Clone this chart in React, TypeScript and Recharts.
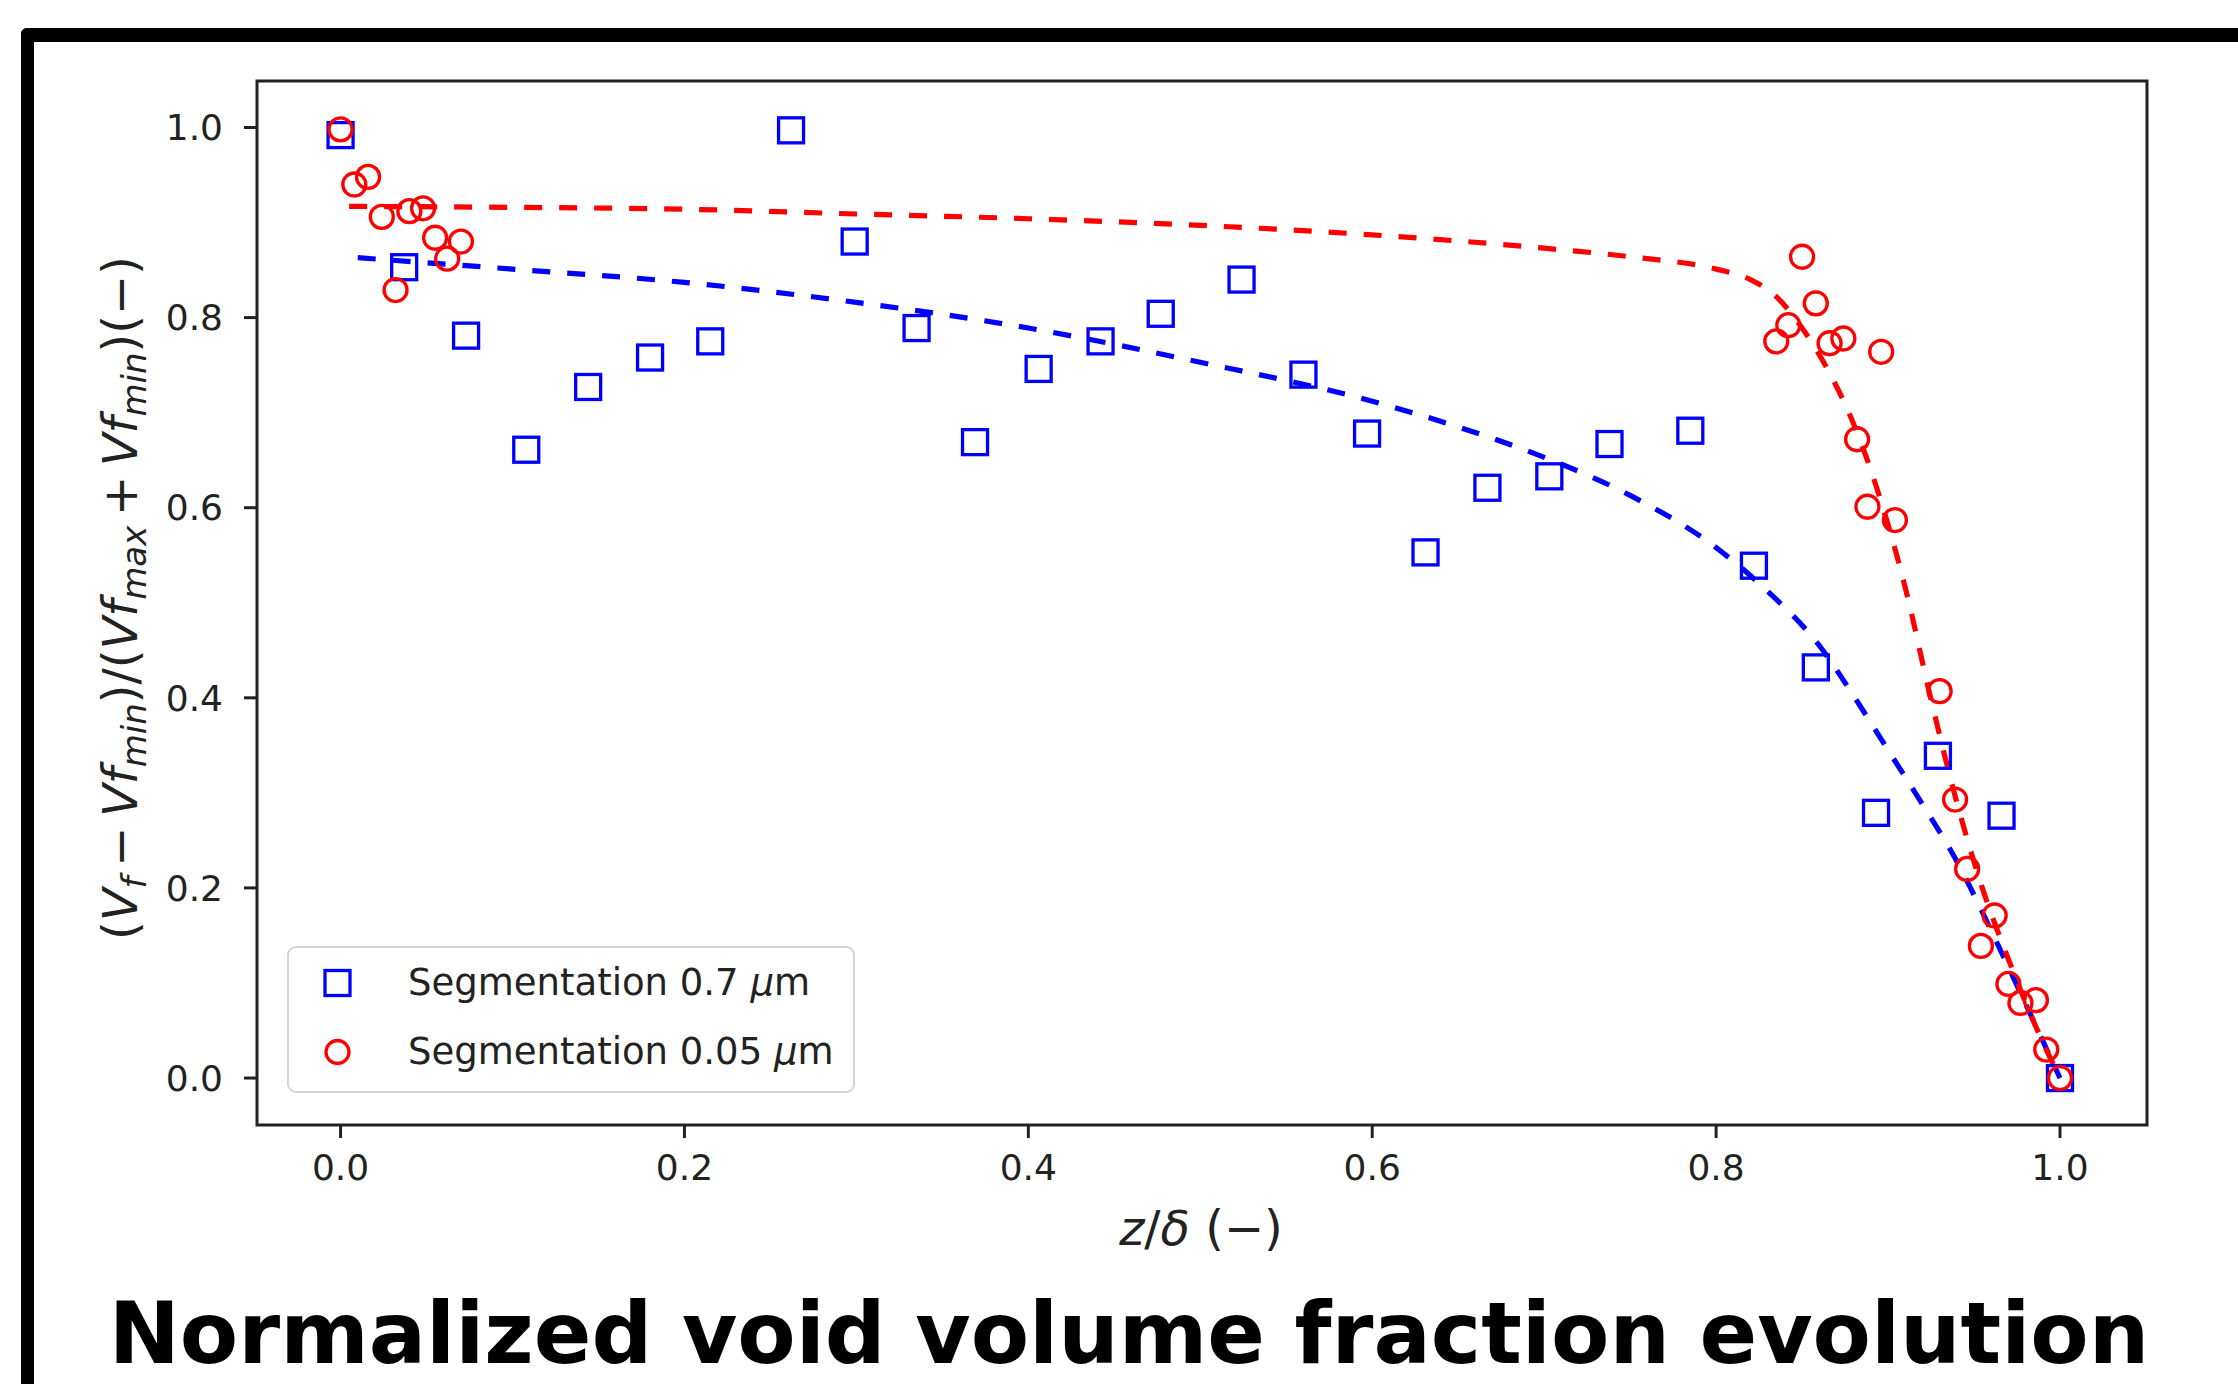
import React from 'react';
import { ComposedChart, XAxis, YAxis, Scatter, Line, ReferenceArea, Legend } from 'recharts';

// ---- data ----
const squareX = [0.0, 0.037, 0.073, 0.108, 0.144, 0.180, 0.215, 0.262, 0.299, 0.335, 0.369, 0.406, 0.442, 0.477, 0.524, 0.560, 0.597, 0.631, 0.667, 0.703, 0.738, 0.785, 0.822, 0.858, 0.893, 0.929, 0.966, 1.0];
const squareY = [0.992, 0.853, 0.781, 0.661, 0.727, 0.758, 0.775, 0.997, 0.880, 0.789, 0.669, 0.746, 0.775, 0.804, 0.840, 0.740, 0.678, 0.553, 0.621, 0.633, 0.667, 0.681, 0.539, 0.432, 0.279, 0.339, 0.276, 0.0];

const circleX = [0.0, 0.008, 0.016, 0.024, 0.032, 0.040, 0.048, 0.055, 0.062, 0.070, 0.835, 0.842, 0.850, 0.858, 0.866, 0.874, 0.882, 0.888, 0.896, 0.904, 0.930, 0.939, 0.946, 0.954, 0.962, 0.970, 0.977, 0.986, 0.992, 1.0];
const circleY = [0.998, 0.940, 0.948, 0.906, 0.829, 0.912, 0.915, 0.884, 0.862, 0.880, 0.775, 0.792, 0.864, 0.815, 0.773, 0.778, 0.672, 0.601, 0.764, 0.587, 0.407, 0.293, 0.220, 0.139, 0.171, 0.099, 0.079, 0.082, 0.030, 0.0];

const blueFitX = [0.01, 0.1, 0.2, 0.3, 0.4, 0.5, 0.6, 0.65, 0.7, 0.75, 0.8, 0.83, 0.86, 0.88, 0.9, 0.92, 0.94, 0.96, 0.98, 1.0];
const blueFitY = [0.863, 0.851, 0.837, 0.816, 0.789, 0.753, 0.712, 0.685, 0.653, 0.613, 0.558, 0.512, 0.455, 0.402, 0.345, 0.288, 0.228, 0.155, 0.078, 0.0];

const redFitX = [0.005, 0.1, 0.2, 0.3, 0.4, 0.5, 0.6, 0.7, 0.75, 0.8, 0.82, 0.835, 0.85, 0.865, 0.88, 0.895, 0.91, 0.925, 0.94, 0.955, 0.97, 0.985, 1.0];
const redFitY = [0.917, 0.916, 0.914, 0.909, 0.904, 0.897, 0.887, 0.873, 0.864, 0.851, 0.840, 0.822, 0.789, 0.745, 0.688, 0.612, 0.516, 0.398, 0.290, 0.199, 0.125, 0.058, 0.0];

const xTicks = [0, 0.2, 0.4, 0.6, 0.8, 1.0];
const yTicks = [0, 0.2, 0.4, 0.6, 0.8, 1.0];
const seriesNames = ['Segmentation 0.7', 'Segmentation 0.05'];
const unitMu = 'μ';
const unitM = 'm';
const titleText = 'Normalized void volume fraction evolution';

const zip = (xs: number[], ys: number[]) => xs.map((x, i) => ({ x, y: ys[i] }));
const squares = zip(squareX, squareY);
const circles = zip(circleX, circleY);
const blueFit = zip(blueFitX, blueFitY);
const redFit = zip(redFitX, redFitY);

const FONT = "'DejaVu Sans', sans-serif";
const BLUE = '#0000ff';
const RED = '#ff0000';
const INK = '#222222';

const X_DOMAIN = [-0.0486, 1.0506];
const Y_DOMAIN = [-0.0494, 1.0489];

const SquareShape = (props: any) => {
  const { cx, cy } = props;
  if (cx == null || cy == null) return null;
  return <rect x={cx - 12.5} y={cy - 12.5} width={25} height={25} fill="none" stroke={BLUE} strokeWidth={3.3} />;
};

const CircleShape = (props: any) => {
  const { cx, cy } = props;
  if (cx == null || cy == null) return null;
  return <circle cx={cx} cy={cy} r={11.5} fill="none" stroke={RED} strokeWidth={3.3} />;
};

const YLabel = (props: any) => {
  const vb = props.viewBox || { x: 0, y: 81, width: 257, height: 1044 };
  const x = vb.x + 137;
  const cy = vb.y + vb.height / 2 - 5;
  const sub = 34;
  const drop = 9;
  return (
    <text x={x} y={cy} transform={`rotate(-90, ${x}, ${cy})`} textAnchor="middle" fontFamily={FONT} fontSize={48} fill={INK}>
      <tspan>(</tspan>
      <tspan fontStyle="italic">V</tspan>
      <tspan fontStyle="italic" fontSize={sub} dy={drop}>f</tspan>
      <tspan dy={-drop}>{'\u2009−\u2009'}</tspan>
      <tspan fontStyle="italic">Vf</tspan>
      <tspan fontStyle="italic" fontSize={sub} dy={drop}>min</tspan>
      <tspan dy={-drop}>)/(</tspan>
      <tspan fontStyle="italic">Vf</tspan>
      <tspan fontStyle="italic" fontSize={sub} dy={drop}>max</tspan>
      <tspan dy={-drop}>{'\u2009+\u2009'}</tspan>
      <tspan fontStyle="italic">Vf</tspan>
      <tspan fontStyle="italic" fontSize={sub} dy={drop}>min</tspan>
      <tspan dy={-drop}>)(−)</tspan>
    </text>
  );
};

const XLabel = (props: any) => {
  const vb = props.viewBox || { x: 257, y: 1125, width: 1890, height: 120 };
  const x = vb.x + vb.width / 2 - 1;
  const y = vb.y + 120;
  return (
    <text x={x} y={y} textAnchor="middle" fontFamily={FONT} fontSize={48} fill={INK}>
      <tspan fontStyle="italic">z</tspan>
      <tspan>/</tspan>
      <tspan fontStyle="italic">δ</tspan>
      <tspan>{' (−)'}</tspan>
    </text>
  );
};

const legendMarkers = ['square', 'circle'];
const legendColors = [BLUE, RED];

const renderLegend = () => (
  <div
    style={{
      position: 'relative',
      width: 568,
      height: 147,
      boxSizing: 'border-box',
      border: '2.5px solid #d4d4d4',
      borderRadius: 9,
      background: 'rgba(255,255,255,0.85)',
      fontFamily: FONT,
      fontSize: 37,
      color: INK,
    }}
  >
    {seriesNames.map((name, i) => (
      <div
        key={name}
        style={{
          position: 'absolute',
          left: 0,
          top: (i === 0 ? 37 : 106) - 2.5 - 25,
          height: 50,
          display: 'flex',
          alignItems: 'center',
          whiteSpace: 'nowrap',
        }}
      >
        <svg width={119} height={50} style={{ display: 'block' }}>
          {legendMarkers[i] === 'square' ? (
            <rect x={48.5 - 12.5} y={12.5} width={25} height={25} fill="none" stroke={legendColors[i]} strokeWidth={3.3} />
          ) : (
            <circle cx={48.5} cy={25} r={11.5} fill="none" stroke={legendColors[i]} strokeWidth={3.3} />
          )}
        </svg>
        <span>
          {name} <i>{unitMu}</i>
          {unitM}
        </span>
      </div>
    ))}
  </div>
);

export default function App() {
  return (
    <div style={{ position: 'absolute', left: 0, top: 0, width: 2238, height: 1384, overflow: 'hidden', background: '#fff' }}>
      <div
        style={{
          position: 'absolute',
          left: 21,
          top: 28,
          width: 2400,
          height: 1600,
          borderTop: '14px solid #000',
          borderLeft: '13px solid #000',
          borderTopLeftRadius: 6,
        }}
      />
      <div style={{ position: 'absolute', left: 0, top: 0 }}>
        <ComposedChart width={2238} height={1384} margin={{ top: 81, right: 91, bottom: 139, left: 0 }}>
          <XAxis
            dataKey="x"
            type="number"
            domain={X_DOMAIN}
            allowDataOverflow
            ticks={xTicks}
            tickFormatter={(v: number) => v.toFixed(1)}
            height={120}
            axisLine={false}
            tickLine={{ stroke: INK, strokeWidth: 3 }}
            tickSize={13}
            tickMargin={16}
            tick={{ fontFamily: FONT, fontSize: 36, fill: INK }}
            label={<XLabel />}
          />
          <YAxis
            dataKey="y"
            type="number"
            domain={Y_DOMAIN}
            allowDataOverflow
            ticks={yTicks}
            tickFormatter={(v: number) => v.toFixed(1)}
            width={257}
            axisLine={false}
            tickLine={{ stroke: INK, strokeWidth: 3 }}
            tickSize={13}
            tickMargin={21}
            tick={{ fontFamily: FONT, fontSize: 36, fill: INK }}
            label={<YLabel />}
          />
          <Scatter name={seriesNames[0]} data={squares} dataKey="y" shape={<SquareShape />} isAnimationActive={false} legendType="square" />
          <Scatter name={seriesNames[1]} data={circles} dataKey="y" shape={<CircleShape />} isAnimationActive={false} legendType="circle" />
          <Line data={blueFit} dataKey="y" type="monotone" stroke={BLUE} strokeWidth={5.2} strokeDasharray="18 17" dot={false} activeDot={false} isAnimationActive={false} legendType="none" />
          <Line data={redFit} dataKey="y" type="monotone" stroke={RED} strokeWidth={5.2} strokeDasharray="18 17" dot={false} activeDot={false} isAnimationActive={false} legendType="none" />
          <ReferenceArea x1={X_DOMAIN[0]} x2={X_DOMAIN[1]} y1={Y_DOMAIN[0]} y2={Y_DOMAIN[1]} fill="none" fillOpacity={0} stroke={INK} strokeWidth={3} strokeOpacity={1} />
          <Legend
            layout="horizontal"
            verticalAlign="middle"
            align="center"
            width={568}
            height={147}
            wrapperStyle={{ left: 287, top: 946, width: 568, height: 147 }}
            content={renderLegend}
          />
        </ComposedChart>
      </div>
      <svg width={2238} height={1384} style={{ position: 'absolute', left: 0, top: 0, pointerEvents: 'none' }}>
        <text x={1129} y={1363} textAnchor="middle" fontFamily={FONT} fontWeight="bold" fontSize={85} fill="#000">
          {titleText}
        </text>
      </svg>
    </div>
  );
}
